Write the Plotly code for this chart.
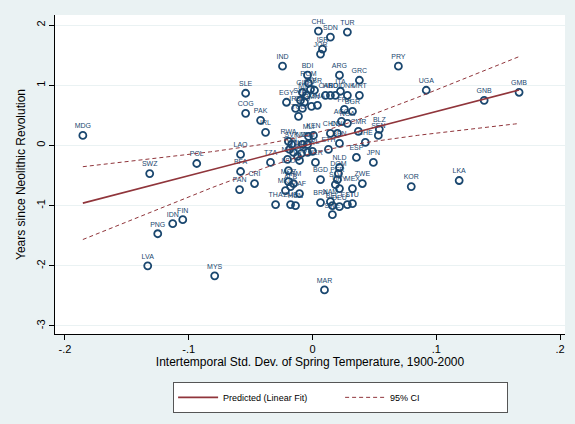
import numpy as np
import plotly.graph_objects as go

# ---- data ----
codes = ["MDG","SWZ","POL","LAO","BFA","PAN","CRI","PNG","IDN","FIN","LVA","MYS","MAR",
         "IND","SLE","COG","PAK","IRL","EGY",
         "CHL","SDN","TUR","ISR","JOR","PRY","BDI","ARG","GRC","ROM","MRT","ITA","UGA","GNB","GMB",
         "KOR","LKA","BLZ","SEN","CHE","ESP","JPN","ZWE","MEX","NLD","NER","ETH","BEN","CHN","COL","CMR",
         "BGR","AGO","NGA","FRA","GHA",
         "CIV","GBR","GIN","MNG","SYR","YEM","IRQ","GEO","OMN","TCD","CAF","HND","BOL","DNK",
         "RWA","SVK","MLI","KEN","NZL","MWI","TUN","HTI","IRN","DZA","NPL","LBR","TGO","NIC","TZA","LSO",
         "BGD","DOM","PER","SLV","URY","BRA","NAM","BEL","DEU","EST","LTU","SWE",
         "MOZ","MKD","ALB","ARM","ZAF","THA","ZMB","HUN"]
temp_sd = [-0.1855,-0.1315,-0.0935,-0.0581,-0.0581,-0.0589,-0.0468,-0.125,-0.1129,-0.1048,-0.1331,-0.079,0.0097,
           -0.0242,-0.054,-0.054,-0.0419,-0.0379,-0.021,
           0.0048,0.0145,0.0282,0.0081,0.0065,0.0694,-0.004,0.0218,0.0379,-0.0032,0.0379,0.0226,0.0919,0.1387,0.1669,
           0.0798,0.1185,0.054,0.0532,0.0427,0.0355,0.0492,0.0403,0.0323,0.0218,0.0024,0.0129,0.0218,0.0145,0.0202,0.0371,
           0.0323,0.0234,0.0282,0.0258,0.004,
           -0.0016,0.0016,-0.0081,-0.0048,-0.0097,-0.0065,-0.0137,-0.0081,-0.0008,-0.0113,0.0105,0.0145,0.0185,0.0282,
           -0.0194,-0.0169,-0.0032,0.0008,-0.0081,-0.004,-0.0185,-0.0153,-0.0089,-0.004,0.0,-0.0121,-0.0105,-0.0202,-0.0339,-0.0194,
           0.0065,0.021,0.0202,0.0185,0.0218,0.0065,0.0145,0.0161,0.0218,0.0282,0.0323,0.0161,
           -0.0194,-0.0218,-0.0177,-0.0153,-0.0105,-0.0298,-0.0177,-0.0137]
years = [0.167,-0.467,-0.300,-0.150,-0.433,-0.733,-0.633,-1.467,-1.300,-1.233,-2.000,-2.167,-2.400,
         1.317,0.867,0.533,0.417,0.217,0.717,
         1.900,1.800,1.883,1.600,1.517,1.317,1.167,1.167,1.083,1.033,0.833,0.900,0.917,0.750,0.883,
         -0.683,-0.583,0.267,0.167,0.050,-0.200,-0.283,-0.633,-0.717,-0.367,-0.283,-0.067,0.033,0.200,0.200,0.233,
         0.567,0.400,0.367,0.600,0.667,
         0.933,0.917,0.883,0.833,0.750,0.717,0.617,0.617,0.650,0.483,0.833,0.833,0.833,0.833,
         0.067,0.017,0.150,0.167,0.017,0.017,-0.067,-0.117,-0.133,-0.117,-0.100,-0.183,-0.250,-0.233,-0.283,-0.417,
         -0.567,-0.467,-0.567,-0.650,-0.717,-0.950,-0.933,-1.000,-1.017,-0.983,-0.967,-1.150,
         -0.600,-0.750,-0.683,-0.633,-0.800,-0.983,-0.983,-1.000]

x_ticks = [-0.2, -0.1, 0, 0.1, 0.2]
x_tick_labels = ["-.2", "-.1", "0", ".1", ".2"]
y_ticks = [-3, -2, -1, 0, 1, 2]
y_tick_labels = ["-3", "-2", "-1", "0", "1", "2"]

# ---- linear fit with 95% CI (computed from the data) ----
x = np.array(temp_sd)
y = np.array(years)
n = len(x)
b1, b0 = np.polyfit(x, y, 1)
resid = y - (b0 + b1 * x)
s = np.sqrt(np.sum(resid ** 2) / (n - 2))
sxx = np.sum((x - x.mean()) ** 2)
t_crit = 1.983
xg = np.linspace(x.min(), x.max(), 100)
yg = b0 + b1 * xg
se = s * np.sqrt(1.0 / n + (xg - x.mean()) ** 2 / sxx)
ci_hi = yg + t_crit * se
ci_lo = yg - t_crit * se

NAVY = "#1a476f"
MAROON = "#90353b"
BG = "#eaf2f3"
FONT = "Liberation Sans, Arial, sans-serif"

fig = go.Figure()
fig.add_trace(go.Scatter(
    x=temp_sd, y=years, mode="markers+text", text=codes, textposition="top center",
    textfont=dict(size=7, color=NAVY, family=FONT),
    marker=dict(symbol="circle-open", size=7, color=NAVY, line=dict(width=1.8, color=NAVY)),
    showlegend=False, cliponaxis=False))
fig.add_trace(go.Scatter(
    x=xg, y=yg, mode="lines", line=dict(color=MAROON, width=1.6),
    name="Predicted (Linear Fit)"))
fig.add_trace(go.Scatter(
    x=xg, y=ci_hi, mode="lines", line=dict(color=MAROON, width=1, dash="4px,3px"),
    name="95% CI", legendgroup="ci"))
fig.add_trace(go.Scatter(
    x=xg, y=ci_lo, mode="lines", line=dict(color=MAROON, width=1, dash="4px,3px"),
    name="95% CI", legendgroup="ci", showlegend=False))

fig.update_layout(
    width=575, height=424,
    margin=dict(l=55, r=10, t=15, b=90),
    paper_bgcolor=BG, plot_bgcolor="white",
    font=dict(family=FONT, color="black", size=11),
    legend=dict(orientation="h", x=0.56, xanchor="center", y=-0.15, yanchor="top",
                bgcolor="white", bordercolor="#555", borderwidth=1,
                font=dict(size=9, family=FONT), entrywidth=112, itemwidth=40),
    xaxis=dict(range=[-0.208, 0.204], tickvals=x_ticks, ticktext=x_tick_labels,
               showgrid=False, zeroline=False, showline=True, linecolor="black", linewidth=1,
               ticks="outside", ticklen=5, tickcolor="black", automargin=False,
               title=dict(text="Intertemporal Std. Dev. of Spring Temperature, 1900-2000",
                          font=dict(size=12), standoff=2)),
    yaxis=dict(range=[-3.133, 2.167], tickvals=y_ticks, ticktext=y_tick_labels, tickangle=-90,
               showgrid=True, gridcolor=BG, gridwidth=1, zeroline=False,
               showline=True, linecolor="black", linewidth=1,
               ticks="outside", ticklen=5, tickcolor="black", automargin=False,
               title=dict(text="Years since Neolithic Revolution", font=dict(size=12), standoff=6)),
)

fig.write_html("out.html", config={"displayModeBar": False},
               post_script="document.body.style.margin='0';document.body.style.background='%s';" % BG)
